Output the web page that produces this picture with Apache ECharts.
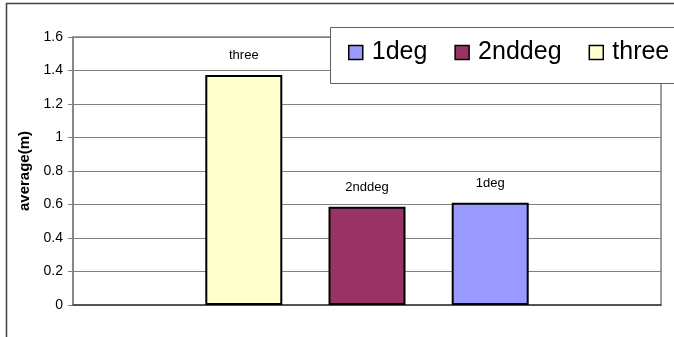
<!DOCTYPE html>
<html>
<head>
<meta charset="utf-8">
<script src="https://cdn.jsdelivr.net/npm/echarts@6/dist/echarts.min.js"></script>
<style>
html,body{margin:0;padding:0;background:#fff;}
#main{width:674px;height:337px;}
</style>
</head>
<body>
<div id="main"></div>
<script>
// data
var categories = [''];
var seriesNames = ['three', '2nddeg', '1deg'];
var threeValues = [1.373];
var nddegValues = [0.587];
var degValues = [0.611];
var legendOrder = ['1deg', '2nddeg', 'three'];
var colors = ['#FFFFCC', '#993366', '#9999FF'];

var font = 'Liberation Sans, Arial, sans-serif';
var values = [threeValues, nddegValues, degValues];

var myChart = echarts.init(document.getElementById('main'));

var series = [];
for (var i = 0; i < seriesNames.length; i++) {
	series.push({
		name: seriesNames[i],
		type: 'bar',
		data: values[i],
		barWidth: 77,
		barGap: '60%',
		itemStyle: {color: colors[i], borderColor: '#000', borderWidth: 2},
		label: {
			show: true,
			position: 'top',
			distance: 13,
			formatter: '{a}',
			fontFamily: font,
			fontSize: 13,
			color: '#000'
		}
	});
}

var option = {
	animation: false,
	backgroundColor: '#fff',
	graphic: [
		{
			type: 'rect',
			z: 100,
			shape: {x: 6.5, y: 3.5, width: 800, height: 500},
			style: {fill: 'none', stroke: '#404040', lineWidth: 1.5}
		},
		{
			type: 'rect',
			z: 100,
			shape: {x: 330.5, y: 27.5, width: 400, height: 56},
			style: {fill: '#fff', stroke: '#606060', lineWidth: 1}
		}
	],
	legend: {
		data: legendOrder,
		z: 110,
		left: 348,
		top: 40,
		padding: 0,
		itemWidth: 14,
		itemHeight: 14,
		itemGap: 27,
		icon: 'rect',
		itemStyle: {borderColor: '#000', borderWidth: 1.5},
		textStyle: {fontFamily: font, fontSize: 25, color: '#000', padding: [0, 0, 0, 4]}
	},
	grid: {
		left: 73,
		top: 37,
		right: 13,
		bottom: 32,
		show: true,
		borderColor: '#808080',
		borderWidth: 1.5
	},
	xAxis: {
		type: 'category',
		data: categories,
		axisLine: {lineStyle: {color: '#404040', width: 1.5}},
		axisTick: {show: false},
		axisLabel: {show: false}
	},
	yAxis: {
		type: 'value',
		min: 0,
		max: 1.6,
		interval: 0.2,
		name: 'average(m)',
		nameLocation: 'middle',
		nameGap: 35,
		nameRotate: 90,
		nameTextStyle: {fontFamily: font, fontSize: 15, fontWeight: 'bold', color: '#000'},
		axisLine: {show: true, lineStyle: {color: '#808080', width: 1.5}},
		axisTick: {show: true, length: 5, lineStyle: {color: '#808080'}},
		axisLabel: {fontFamily: font, fontSize: 14, color: '#000', margin: 10},
		splitLine: {lineStyle: {color: '#808080', width: 1.2}}
	},
	series: series
};

myChart.setOption(option);
</script>
</body>
</html>
